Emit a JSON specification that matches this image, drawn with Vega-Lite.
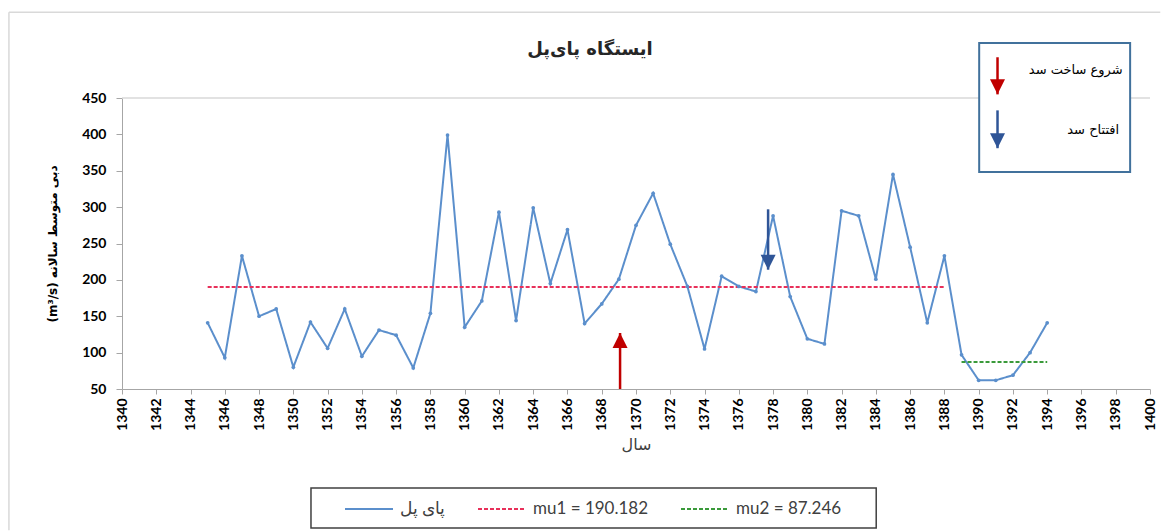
{
  "$schema": "https://vega.github.io/schema/vega-lite/v6.json",
  "autosize": "none",
  "width": 1028,
  "height": 291,
  "padding": {"left": 122, "top": 98, "right": 14, "bottom": 143},
  "background": "white",
  "config": {
    "view": {"stroke": null},
    "font": "Lato",
    "axis": {"labelOverlap": false, "labelFlush": false, "labelBound": false, "labelSeparation": 0}
  },
  "title": {
    "text": "ایستگاه پای‌پل",
    "font": "DejaVu Sans",
    "fontSize": 18,
    "fontWeight": "bold",
    "color": "#262626",
    "anchor": "middle",
    "frame": "group",
    "dx": -46,
    "offset": -48
  },
  "datasets": {
    "flow": [
      {"year": 1345, "value": 141, "series": "پای پل"},
      {"year": 1346, "value": 93, "series": "پای پل"},
      {"year": 1347, "value": 233, "series": "پای پل"},
      {"year": 1348, "value": 150, "series": "پای پل"},
      {"year": 1349, "value": 160, "series": "پای پل"},
      {"year": 1350, "value": 80, "series": "پای پل"},
      {"year": 1351, "value": 142, "series": "پای پل"},
      {"year": 1352, "value": 106, "series": "پای پل"},
      {"year": 1353, "value": 160, "series": "پای پل"},
      {"year": 1354, "value": 95, "series": "پای پل"},
      {"year": 1355, "value": 131, "series": "پای پل"},
      {"year": 1356, "value": 124, "series": "پای پل"},
      {"year": 1357, "value": 79, "series": "پای پل"},
      {"year": 1358, "value": 154, "series": "پای پل"},
      {"year": 1359, "value": 399, "series": "پای پل"},
      {"year": 1360, "value": 135, "series": "پای پل"},
      {"year": 1361, "value": 171, "series": "پای پل"},
      {"year": 1362, "value": 293, "series": "پای پل"},
      {"year": 1363, "value": 144, "series": "پای پل"},
      {"year": 1364, "value": 299, "series": "پای پل"},
      {"year": 1365, "value": 195, "series": "پای پل"},
      {"year": 1366, "value": 269, "series": "پای پل"},
      {"year": 1367, "value": 140, "series": "پای پل"},
      {"year": 1368, "value": 167, "series": "پای پل"},
      {"year": 1369, "value": 201, "series": "پای پل"},
      {"year": 1370, "value": 275, "series": "پای پل"},
      {"year": 1371, "value": 319, "series": "پای پل"},
      {"year": 1372, "value": 249, "series": "پای پل"},
      {"year": 1373, "value": 191, "series": "پای پل"},
      {"year": 1374, "value": 105, "series": "پای پل"},
      {"year": 1375, "value": 205, "series": "پای پل"},
      {"year": 1376, "value": 191, "series": "پای پل"},
      {"year": 1377, "value": 184, "series": "پای پل"},
      {"year": 1378, "value": 288, "series": "پای پل"},
      {"year": 1379, "value": 177, "series": "پای پل"},
      {"year": 1380, "value": 119, "series": "پای پل"},
      {"year": 1381, "value": 112, "series": "پای پل"},
      {"year": 1382, "value": 295, "series": "پای پل"},
      {"year": 1383, "value": 288, "series": "پای پل"},
      {"year": 1384, "value": 201, "series": "پای پل"},
      {"year": 1385, "value": 345, "series": "پای پل"},
      {"year": 1386, "value": 245, "series": "پای پل"},
      {"year": 1387, "value": 141, "series": "پای پل"},
      {"year": 1388, "value": 233, "series": "پای پل"},
      {"year": 1389, "value": 97, "series": "پای پل"},
      {"year": 1390, "value": 62, "series": "پای پل"},
      {"year": 1391, "value": 62, "series": "پای پل"},
      {"year": 1392, "value": 69, "series": "پای پل"},
      {"year": 1393, "value": 100, "series": "پای پل"},
      {"year": 1394, "value": 141, "series": "پای پل"},
      {"year": 1345, "value": 190.182, "series": "mu1 = 190.182"},
      {"year": 1388, "value": 190.182, "series": "mu1 = 190.182"},
      {"year": 1389, "value": 87.246, "series": "mu2 = 87.246"},
      {"year": 1394, "value": 87.246, "series": "mu2 = 87.246"}
    ],
    "arrows": [
      {"kind": "start", "dir": "up", "ax": 1369.07, "ay1": 50, "ay2": 127},
      {"kind": "open", "dir": "down", "ax": 1377.71, "ay1": 297, "ay2": 214},
      {"kind": "start", "dir": "down", "ax": 1391.1, "ay1": 506, "ay2": 455},
      {"kind": "open", "dir": "down", "ax": 1391.1, "ay1": 433, "ay2": 381}
    ],
    "box": [
      {"bx1": 1390.03, "bx2": 1398.84, "by1": 525.6, "by2": 348.3}
    ],
    "legendbox": [
      {"bx1": 1351.03, "bx2": 1384.02, "by1": -86.1, "by2": -141.1}
    ],
    "boxtext": [
      {"tx": 1398.4, "ty": 489, "label": "شروع ساخت سد"},
      {"tx": 1398.2, "ty": 406, "label": "افتتاح سد"}
    ],
    "frame": [
      {"fx1": 1333.4, "fx2": 1400.6, "fy1": 568, "fy2": 568},
      {"fx1": 1333.4, "fx2": 1333.4, "fy1": -144, "fy2": 568},
      {"fx1": 1340, "fx2": 1400, "fy1": 450, "fy2": 450}
    ]
  },
  "layer": [
    {
      "data": {"name": "flow"},
      "mark": {"type": "line", "strokeWidth": 2},
      "encoding": {
        "x": {
          "field": "year",
          "type": "quantitative",
          "scale": {"domain": [1340, 1400], "nice": false, "zero": false},
          "axis": {
            "title": "سال",
            "titleFont": "DejaVu Sans",
            "titleFontSize": 16,
            "titleFontWeight": "normal",
            "titleColor": "#404040",
            "titlePadding": 6,
            "values": [1340,1342,1344,1346,1348,1350,1352,1354,1356,1358,1360,1362,1364,1366,1368,1370,1372,1374,1376,1378,1380,1382,1384,1386,1388,1390,1392,1394,1396,1398,1400],
            "tickCount": 100,
            "format": "d",
            "labelAngle": 270,
            "labelAlign": "right",
            "labelBaseline": "middle",
            "labelFontSize": 14,
            "labelFontWeight": "bold",
            "labelColor": "#000000",
            "labelPadding": 4,
            "labelOverlap": false,
            "domainColor": "#A6A6A6",
            "tickColor": "#A6A6A6",
            "tickSize": 5,
            "grid": false
          }
        },
        "y": {
          "field": "value",
          "type": "quantitative",
          "scale": {"domain": [50, 450], "nice": false, "zero": false},
          "axis": {
            "title": "(m³/s) دبی متوسط سالانه",
            "titleFont": "DejaVu Sans",
            "titleFontSize": 12,
            "titleFontWeight": "bold",
            "titleColor": "#000000",
            "titlePadding": 22,
            "values": [50,100,150,200,250,300,350,400,450],
            "tickCount": 40,
            "labelFontSize": 14,
            "labelFontWeight": "bold",
            "labelColor": "#000000",
            "labelPadding": 10,
            "labelOverlap": false,
            "domainColor": "#A6A6A6",
            "tickColor": "#A6A6A6",
            "tickSize": 6,
            "grid": false
          }
        },
        "color": {
          "field": "series",
          "type": "nominal",
          "scale": {
            "domain": ["پای پل", "mu1 = 190.182", "mu2 = 87.246"],
            "range": ["#5B8FCC", "#E8305A", "#3A9A3A"]
          },
          "legend": {
            "title": null,
            "orient": "none",
            "legendX": 222,
            "legendY": 398,
            "direction": "horizontal",
            "padding": 0,
            "symbolType": "M-1,0L3,0",
            "symbolSize": 576,
            "symbolStrokeWidth": 2,
            "labelFontSize": 17,
            "labelFont": "Lato",
            "labelColor": "#404040",
            "labelOffset": 30,
            "columnPadding": 28
          }
        },
        "strokeDash": {
          "field": "series",
          "type": "nominal",
          "scale": {
            "domain": ["پای پل", "mu1 = 190.182", "mu2 = 87.246"],
            "range": [[1, 0], [4, 2], [4, 2]]
          }
        }
      }
    },
    {
      "data": {"name": "frame"},
      "mark": {"type": "rule", "color": "#D9D9D9", "strokeWidth": 1.5},
      "encoding": {
        "x": {"field": "fx1", "type": "quantitative"},
        "x2": {"field": "fx2"},
        "y": {"field": "fy1", "type": "quantitative"},
        "y2": {"field": "fy2"}
      }
    },
    {
      "data": {"name": "legendbox"},
      "mark": {"type": "rect", "fill": "white", "stroke": "#404040", "strokeWidth": 1.5},
      "encoding": {
        "x": {"field": "bx1", "type": "quantitative"},
        "x2": {"field": "bx2"},
        "y": {"field": "by1", "type": "quantitative"},
        "y2": {"field": "by2"}
      }
    },
    {
      "data": {"name": "flow"},
      "transform": [{"filter": "datum.series === 'پای پل'"}],
      "mark": {"type": "point", "filled": true, "size": 14, "color": "#5B8FCC", "opacity": 1},
      "encoding": {
        "x": {"field": "year", "type": "quantitative"},
        "y": {"field": "value", "type": "quantitative"}
      }
    },
    {
      "data": {"name": "box"},
      "mark": {"type": "rect", "fill": "white", "stroke": "#41719C", "strokeWidth": 2},
      "encoding": {
        "x": {"field": "bx1", "type": "quantitative"},
        "x2": {"field": "bx2"},
        "y": {"field": "by1", "type": "quantitative"},
        "y2": {"field": "by2"}
      }
    },
    {
      "data": {"name": "arrows"},
      "transform": [{"filter": "datum.kind === 'start'"}],
      "mark": {"type": "rule", "color": "#C00000", "strokeWidth": 2.5},
      "encoding": {
        "x": {"field": "ax", "type": "quantitative"},
        "y": {"field": "ay1", "type": "quantitative"},
        "y2": {"field": "ay2"}
      }
    },
    {
      "data": {"name": "arrows"},
      "transform": [{"filter": "datum.kind === 'open'"}],
      "mark": {"type": "rule", "color": "#2F5597", "strokeWidth": 2.5},
      "encoding": {
        "x": {"field": "ax", "type": "quantitative"},
        "y": {"field": "ay1", "type": "quantitative"},
        "y2": {"field": "ay2"}
      }
    },
    {
      "data": {"name": "arrows"},
      "transform": [{"filter": "datum.kind === 'start'"}],
      "mark": {"type": "point", "filled": true, "color": "#C00000", "opacity": 1, "size": 225},
      "encoding": {
        "x": {"field": "ax", "type": "quantitative"},
        "y": {"field": "ay2", "type": "quantitative"},
        "shape": {
          "field": "dir",
          "type": "nominal",
          "scale": {"domain": ["up", "down"], "range": ["M-1,2L1,2L0,0Z", "M-1,-2L1,-2L0,0Z"]},
          "legend": null
        }
      }
    },
    {
      "data": {"name": "arrows"},
      "transform": [{"filter": "datum.kind === 'open'"}],
      "mark": {"type": "point", "filled": true, "color": "#2F5597", "opacity": 1, "size": 225},
      "encoding": {
        "x": {"field": "ax", "type": "quantitative"},
        "y": {"field": "ay2", "type": "quantitative"},
        "shape": {
          "field": "dir",
          "type": "nominal",
          "legend": null
        }
      }
    },
    {
      "data": {"name": "boxtext"},
      "mark": {"type": "text", "align": "right", "baseline": "middle", "font": "DejaVu Sans", "fontSize": 13, "color": "#000000"},
      "encoding": {
        "x": {"field": "tx", "type": "quantitative"},
        "y": {"field": "ty", "type": "quantitative"},
        "text": {"field": "label"}
      }
    }
  ]
}
